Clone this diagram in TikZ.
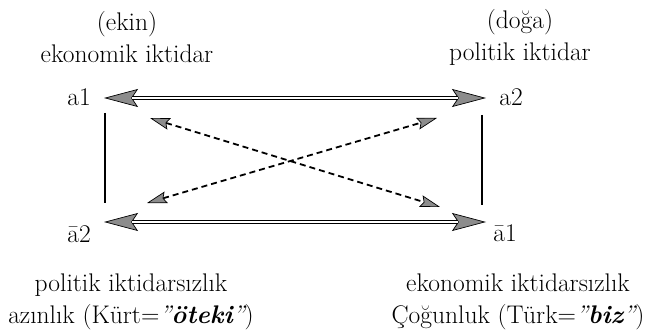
\documentclass[tikz,border=0pt]{standalone}
\usepackage{fontspec}
\usetikzlibrary{arrows.meta}
\definecolor{headgray}{gray}{0.55}
\begin{document}
\begin{tikzpicture}[x=1pt,y=-1pt,
  lbl/.style={font=\fontsize{25.5}{32}\selectfont, inner sep=0pt, align=center},
  corner/.style={font=\fontsize{25.5}{30}\selectfont, inner sep=0pt},
  bigtips/.style={draw=black, line width=0.5pt, {Stealth[length=34pt,width=18pt,inset=6pt,fill=headgray,line width=0.7pt]}-{Stealth[length=34pt,width=18pt,inset=6pt,fill=headgray,line width=0.7pt]}},
  dbl/.style={draw=black, double=white, double distance=1.4pt, line width=1.5pt, shorten <=28pt, shorten >=28pt},
  dashtips/.style={draw=black, line width=1.8pt, dash pattern=on 6pt off 4pt,
    {Stealth[length=20pt,width=12pt,inset=3pt,fill=headgray,line width=0.7pt]}-{Stealth[length=20pt,width=12pt,inset=3pt,fill=headgray,line width=0.7pt]}},
  side/.style={draw=black, line width=1.6pt}
]
\useasboundingbox (0,0) rectangle (648,331);

% corner points
\coordinate (c1) at (104,98);
\coordinate (c2) at (486,98);
\coordinate (c3) at (104,222);
\coordinate (c4) at (486,222);
\coordinate (v1t) at (105,113);
\coordinate (v1b) at (105,203);
\coordinate (v2t) at (482,115);
\coordinate (v2b) at (482,205);
\coordinate (d1) at (150,118);
\coordinate (d2) at (440,207);
\coordinate (d3) at (147,203);
\coordinate (d4) at (437,118);

% labels
\node[lbl] (tl) at (127,37) {(ekin)\\ekonomik iktidar};
\node[lbl] (tr) at (520,37) {(doğa)\\politik iktidar};
\node[lbl] (bl) at (131,302) {politik iktidarsızlık\\azınlık (Kürt={\itshape "\bfseries öteki\mdseries"})};
\node[lbl] (br) at (518,302) {ekonomik iktidarsızlık\\Çoğunluk (Türk={\itshape "\bfseries biz\mdseries"})};
\node[corner] (a1) at (79,97) {a1};
\node[corner] (a2) at (511,97) {a2};
\node[corner] (ab2) at (79,234) {ā2};
\node[corner] (ab1) at (505,233) {ā1};

% double arrows
\draw[bigtips] (c1) -- (c2);
\draw[dbl] (c1) -- (c2);
\draw[bigtips] (c3) -- (c4);
\draw[dbl] (c3) -- (c4);

% sides
\draw[side] (v1t) -- (v1b);
\draw[side] (v2t) -- (v2b);

% dashed diagonals
\draw[dashtips] (d1) -- (d2);
\draw[dashtips] (d3) -- (d4);
\end{tikzpicture}
\end{document}
